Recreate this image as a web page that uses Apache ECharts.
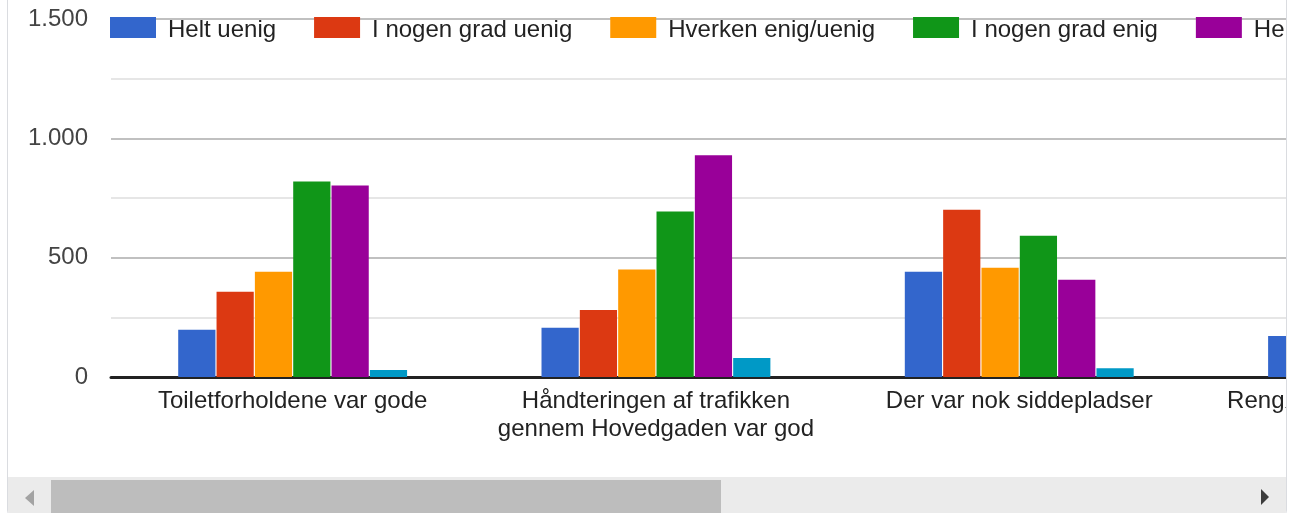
<!DOCTYPE html>
<html>
<head>
<meta charset="utf-8">
<script src="https://cdn.jsdelivr.net/npm/echarts@6/dist/echarts.min.js"></script>
<style>
  html, body { margin: 0; padding: 0; background: #ffffff; width: 1300px; height: 513px; overflow: hidden; }
  #card { position: absolute; left: 7px; top: -12px; width: 1280px; height: 530px; box-sizing: border-box;
          border: 1px solid #dadce0; border-radius: 8px; overflow: hidden; background: #fff; }
  #chart { position: absolute; left: -8px; top: 11px; width: 1286px; height: 513px; }
</style>
</head>
<body>
<div id="card"><div id="chart"></div></div>
<script>
// ---- data ----
const categories = [
  'Toiletforholdene var gode',
  'Håndteringen af trafikken\ngennem Hovedgaden var god',
  'Der var nok siddepladser',
  'Rengøringen af byen var god'
];
const seriesNames = ['Helt uenig', 'I nogen grad uenig', 'Hverken enig/uenig', 'I nogen grad enig', 'Helt enig', 'Ved ikke'];
const heltUenig      = [198, 206, 441, 172];
const nogenGradUenig = [357, 281, 701, null];
const hverken        = [441, 450, 458, null];
const nogenGradEnig  = [819, 693, 592, null];
const heltEnig       = [802, 929, 407, null];
const vedIkke        = [29, 80, 37, null];
const yMin = 0, yMax = 1500, yInterval = 500;

// ---- styling ----
const colors = ['#3366cc', '#dc3912', '#ff9900', '#109618', '#990099', '#0099c6'];
const FONT = '"Liberation Sans", Arial, sans-serif';
const bandWidth = 363.3;
const gridLeft = 111;

const seriesData = [heltUenig, nogenGradUenig, hverken, nogenGradEnig, heltEnig, vedIkke];

const chart = echarts.init(document.getElementById('chart'), null, { renderer: 'canvas' });

function fmt(v) { return String(v).replace(/\B(?=(\d{3})+(?!\d))/g, '.'); }

chart.setOption({
  backgroundColor: '#ffffff',
  animation: false,
  color: colors,
  textStyle: { fontFamily: FONT },
  legend: {
    type: 'plain',
    left: 110,
    top: 17,
    width: 3000,
    padding: 0,
    itemWidth: 46,
    itemHeight: 21,
    itemGap: 38,
    icon: 'rect',
    data: seriesNames,
    formatter: name => '{t|' + name + '}',
    textStyle: {
      fontFamily: FONT, fontSize: 24, color: '#222222', padding: [0, 0, 0, 7],
      rich: { t: { fontFamily: FONT, fontSize: 24, color: '#222222', padding: [5, 0, 0, 0] } }
    }
  },
  grid: { left: gridLeft, top: 19, width: bandWidth * categories.length, bottom: 136,
          containLabel: false, outerBoundsMode: 'none' },
  xAxis: {
    type: 'category',
    data: categories,
    axisLine: { show: true, lineStyle: { color: '#222222', width: 3 } },
    axisTick: { show: false },
    axisLabel: { interval: 0, fontFamily: FONT, fontSize: 24, color: '#222222', margin: 10, lineHeight: 28, hideOverlap: false },
    splitLine: { show: false }
  },
  yAxis: {
    type: 'value',
    min: yMin, max: yMax, interval: yInterval,
    axisLine: { show: false },
    axisTick: { show: false },
    axisLabel: { fontFamily: FONT, fontSize: 24, color: '#444444', margin: 23, formatter: fmt },
    splitLine: { show: true, lineStyle: { color: '#c0c0c0', width: 2 } },
    minorTick: { show: false, splitNumber: 2 },
    minorSplitLine: { show: true, lineStyle: { color: '#e6e6e6', width: 2 } }
  },
  series: seriesNames.map((name, i) => ({
    name: name,
    type: 'bar',
    data: seriesData[i],
    barCategoryGap: '37%',
    barGap: '3%',
    itemStyle: { color: colors[i] }
  })),
  graphic: [
    { type: 'rect', z: 100, shape: { x: 8, y: 477, width: 1280, height: 40 }, style: { fill: '#ebebeb' } },
    { type: 'rect', z: 101, shape: { x: 51, y: 480, width: 670, height: 36 }, style: { fill: '#bdbdbd' } },
    { type: 'polygon', z: 101, shape: { points: [[25, 498], [34, 490], [34, 506]] }, style: { fill: '#a3a3a3' } },
    { type: 'polygon', z: 101, shape: { points: [[1261, 489], [1269, 497], [1261, 505]] }, style: { fill: '#3c3c3c' } }
  ]
});
</script>
</body>
</html>
